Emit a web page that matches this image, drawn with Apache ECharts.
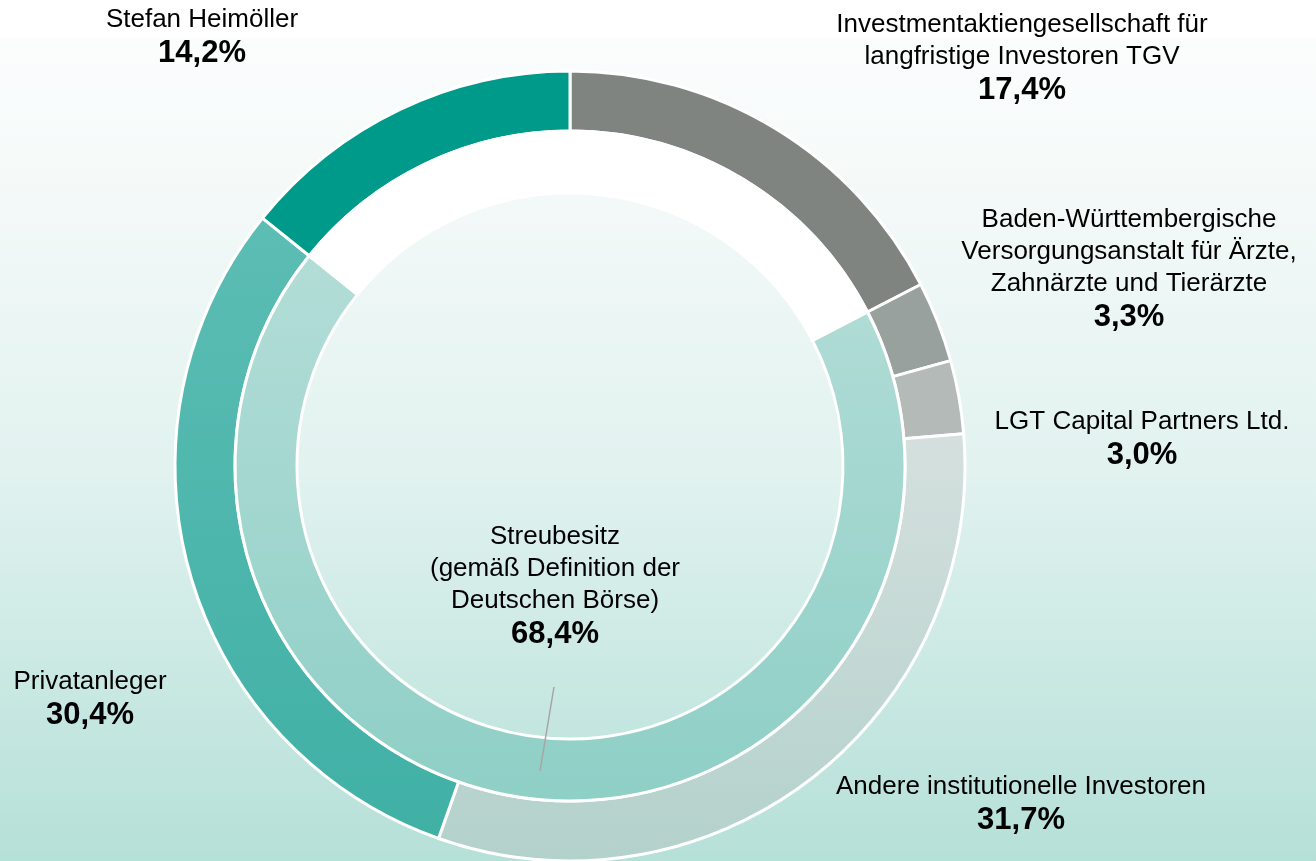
<!DOCTYPE html>
<html>
<head>
<meta charset="utf-8">
<script src="https://cdn.jsdelivr.net/npm/echarts@6/dist/echarts.min.js"></script>
<style>
html,body{margin:0;padding:0;width:1316px;height:861px;overflow:hidden;background:#fff;}
#c{width:1316px;height:861px;}
</style>
</head>
<body>
<div id="c"></div>
<script>
// ---- data ----
const outerNames = [
  'Investmentaktiengesellschaft für\nlangfristige Investoren TGV',
  'Baden-Württembergische\nVersorgungsanstalt für Ärzte,\nZahnärzte und Tierärzte',
  'LGT Capital Partners Ltd.',
  'Andere institutionelle Investoren',
  'Privatanleger',
  'Stefan Heimöller'
];
const outerValues = [17.4, 3.3, 3.0, 31.7, 30.4, 14.2];
const innerNames = ['Streubesitz\n(gemäß Definition der\nDeutschen Börse)', ''];
const innerValues = [68.4, 100 - 68.4];

// ---- styling / layout ----
const FONT = 'Arial, "Liberation Sans", sans-serif';
const CENTER = [570, 466];
function grad(top, bottom) {
  return new echarts.graphic.LinearGradient(0, 0, 0, 1, [
    {offset: 0, color: top}, {offset: 1, color: bottom}
  ]);
}
const outerColors = [
  '#7f8481', '#99a19e', '#b3bab8',
  grad('#d5e0de', '#b3d1cb'),
  grad('#5cbdb4', '#40b0a5'),
  '#009a8a'
];
const innerColors = [grad('#b3ddd7', '#8ecfc6'), '#ffffff'];
// label anchor: [centerX, topY]
const outerLabelPos = [[1022, 9], [1129, 204], [1142, 406], [1021, 771], [90, 666], [202, 4]];
const innerLabelPos = [[555, 521], null];
const guideLine = {x1: 554, y1: 687, x2: 540, y2: 771};

function fmt(v) { return v.toFixed(1).replace('.', ',') + '%'; }
function labelText(p) {
  const lines = p.name.split('\n').map(l => '{n|' + l + '}');
  return lines.join('\n') + '\n{v|' + fmt(p.value) + '}';
}
const rich = {
  n: {fontSize: 26, lineHeight: 32, color: '#000', fontFamily: FONT, align: 'center'},
  v: {fontSize: 31, lineHeight: 35, color: '#000', fontWeight: 'bold', fontFamily: FONT, align: 'center'}
};

const chart = echarts.init(document.getElementById('c'), null, {renderer: 'canvas'});
chart.setOption({
  animation: false,
  backgroundColor: new echarts.graphic.LinearGradient(0, 0, 0, 1, [
    {offset: 0, color: '#ffffff'},
    {offset: 0.043, color: '#ffffff'},
    {offset: 0.045, color: '#fbfdfd'},
    {offset: 0.2, color: '#f5faf9'},
    {offset: 0.55, color: '#e1f2ef'},
    {offset: 1, color: '#b5e0d8'}
  ]),
  graphic: [{
    type: 'line', z: 100, silent: true,
    shape: guideLine,
    style: {stroke: '#a6a6a6', lineWidth: 1.5}
  }],
  series: [
    {
      type: 'pie',
      center: CENTER,
      radius: [335, 395],
      startAngle: 90,
      clockwise: true,
      silent: true,
      avoidLabelOverlap: false,
      itemStyle: {borderColor: '#ffffff', borderWidth: 3},
      label: {show: true, formatter: labelText, rich: rich, width: 500, overflow: 'none'},
      labelLine: {show: false},
      labelLayout: function (p) {
        const pos = outerLabelPos[p.dataIndex];
        return {x: pos[0], y: pos[1], align: 'center', verticalAlign: 'top'};
      },
      data: outerNames.map((n, i) => ({name: n, value: outerValues[i], itemStyle: {color: outerColors[i]}}))
    },
    {
      type: 'pie',
      center: CENTER,
      radius: [273, 335],
      startAngle: 90 - outerValues[0] * 3.6,
      clockwise: true,
      silent: true,
      avoidLabelOverlap: false,
      itemStyle: {borderColor: '#ffffff', borderWidth: 3},
      label: {show: true, formatter: labelText, rich: rich, width: 500, overflow: 'none'},
      labelLine: {show: false},
      labelLayout: function (p) {
        const pos = innerLabelPos[p.dataIndex];
        if (!pos) return {};
        return {x: pos[0], y: pos[1], align: 'center', verticalAlign: 'top'};
      },
      data: innerNames.map((n, i) => ({
        name: n, value: innerValues[i],
        itemStyle: {color: innerColors[i]},
        label: {show: i === 0}
      }))
    }
  ]
});
</script>
</body>
</html>
